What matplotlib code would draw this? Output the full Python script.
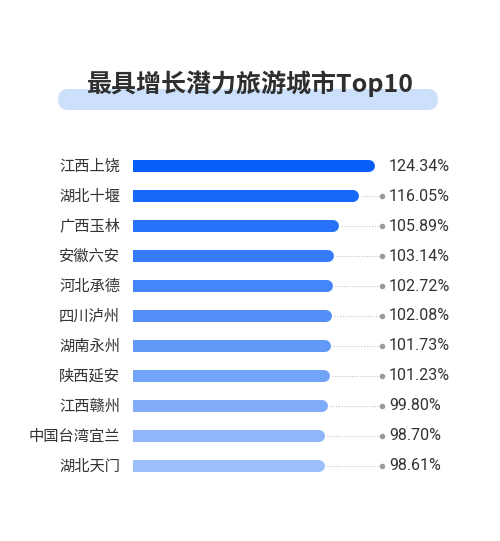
import matplotlib
matplotlib.use("Agg")
import matplotlib.pyplot as plt
from matplotlib.patches import FancyBboxPatch
import numpy as np

plt.rcParams['font.family'] = ['Noto Sans CJK SC', 'DejaVu Sans']

cities = ["江西上饶", "湖北十堰", "广西玉林", "安徽六安", "河北承德", "四川泸州",
          "湖南永州", "陕西延安", "江西赣州", "中国台湾宜兰", "湖北天门"]
values = [124.34, 116.05, 105.89, 103.14, 102.72, 102.08, 101.73, 101.23, 99.80, 98.70, 98.61]
labels = ["124.34%", "116.05%", "105.89%", "103.14%", "102.72%", "102.08%",
          "101.73%", "101.23%", "99.80%", "98.70%", "98.61%"]
title = "最具增长潜力旅游城市Top10"

W, H = 500, 541
fig = plt.figure(figsize=(W / 100, H / 100), dpi=100)
fig.patch.set_facecolor("white")

# title banner
bg = fig.add_axes([0, 0, 1, 1])
bg.set_xlim(0, W)
bg.set_ylim(H, 0)
bg.axis("off")
bg.add_patch(FancyBboxPatch((58, 89), 380, 21,
                            boxstyle="round,pad=0,rounding_size=10.5",
                            fc="#cde0fb", ec="none"))
bg.text(250, 84, title, ha="center", va="center", fontsize=18,
        fontweight="bold", color="#2f2f2f")

# bar axes
px_per_unit = 1.95
x0 = 133
top, bottom = 151, 481
ax = fig.add_axes([x0 / W, 1 - bottom / H, (W - x0) / W, (bottom - top) / H])
ax.set_xlim(0, (W - x0) / px_per_unit)
n = len(values)
ax.set_ylim(n - 0.5, -0.5)
ax.axis("off")

c_top = np.array([8, 94, 248]) / 255
c_bot = np.array([158, 192, 250]) / 255
bar_px = 12
bar_h = bar_px / 30
cap = (bar_px / 2) / px_per_unit
lw_pt = bar_px * 72 / 100
dot_x = (382 - x0) / px_per_unit
text_x = (389 - x0) / px_per_unit

for i, (city, v, lab) in enumerate(zip(cities, values, labels)):
    t = i / (n - 1)
    col = c_top * (1 - t) + c_bot * t
    ax.barh(i, 2 * cap, height=bar_h, left=0, color=col, linewidth=0)
    ax.plot([cap, v - cap], [i, i], color=col, lw=lw_pt,
            solid_capstyle="round")
    if v + 5 < dot_x:
        ax.plot([v + 1, dot_x], [i, i], color="#c4c4c4", lw=0.8,
                linestyle=(0, (1, 1.5)))
        ax.plot([dot_x], [i], "o", color="#9a9a9a", markersize=4,
                markeredgewidth=0)
    ax.text(text_x, i, lab, ha="left", va="center", fontsize=11.5,
            family=["Roboto", "DejaVu Sans"], color="#333333")
    ax.text(-13 / px_per_unit, i, city, ha="right", va="center",
            fontsize=11, color="#333333")

fig.savefig("out.png", dpi=100, facecolor="white")
